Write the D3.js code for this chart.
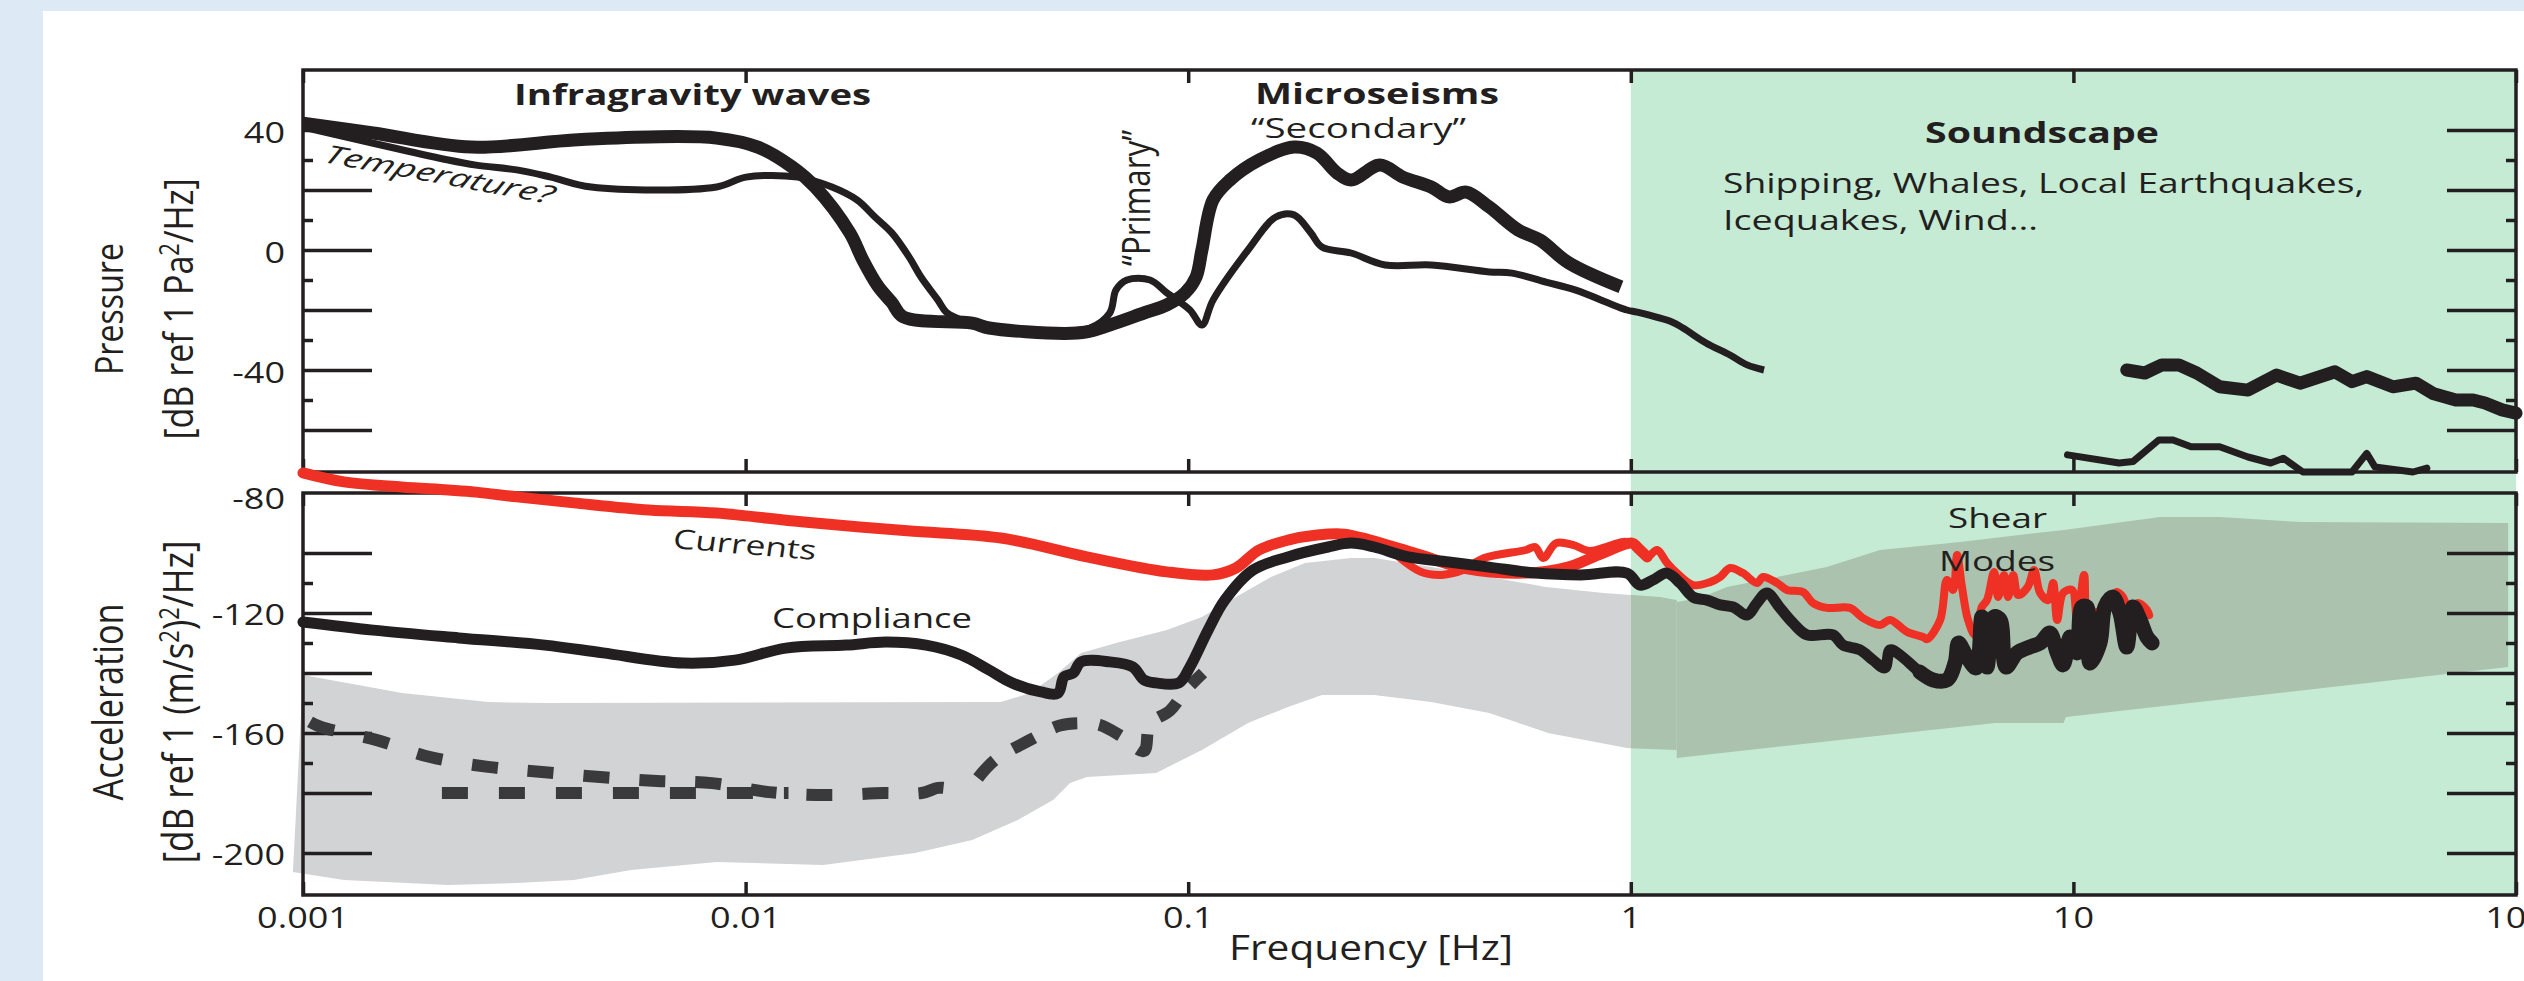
<!DOCTYPE html>
<html><head><meta charset="utf-8">
<script src="https://cdn.jsdelivr.net/npm/d3@7"></script>
<style>html,body{margin:0;padding:0;background:#dde9f5;overflow:hidden}</style>
</head><body><svg id="chart" width="2524" height="981"></svg>
<script>
// ---------------- data ----------------
const xTickValues = [0.001, 0.01, 0.1, 1, 10, 100];
const xTickLabels = ["0.001", "0.01", "0.1", "1", "10", "100"];
const pressureMajorTicks = [-60, -40, -20, 0, 20, 40];
const pressureMinorTicks = [-50, -30, -10, 10, 30];
const pressureTickLabels = [40, 0, -40];
const accelMajorTicks = [-200, -180, -160, -140, -120, -100];
const accelMinorTicks = [-170, -150, -130, -110];
const accelTickLabels = [-80, -120, -160, -200];

// Pressure panel (freq Hz, dB)
const pressureThick = [[0.001,42.3],[0.00144,39],[0.0024,34.3],[0.00409,36.7],[0.00605,37.7],[0.0086,37.3],[0.01066,34.3],[0.01273,27.7],[0.01436,21],[0.0172,5.7],[0.0184,-3.3],[0.0199,-12],[0.0214,-17.5],[0.0227,-22.3],[0.0325,-24.4],[0.0355,-26],[0.0524,-27.8],[0.059,-27.3],[0.0665,-25],[0.0794,-21],[0.0895,-18.3],[0.0984,-14.3],[0.1042,-9],[0.1074,0],[0.1138,16.7],[0.1242,23.3],[0.1445,30],[0.1734,34.3],[0.1954,32.3],[0.2168,25.7],[0.2333,23.3],[0.271,28.3],[0.3055,24.3],[0.354,21],[0.388,17.7],[0.425,19.3],[0.479,14.3],[0.556,6.7],[0.624,3.3],[0.724,-4.3],[0.95,-12.3]];
const pressureThin = [[0.001,41],[0.00213,30],[0.00246,28.3],[0.00304,26.7],[0.00363,24.3],[0.00448,21],[0.0086,21],[0.01002,24.3],[0.01312,24.3],[0.01567,21],[0.01785,16.7],[0.0196,11],[0.0214,5.7],[0.0234,-2.3],[0.0249,-9],[0.0272,-16.7],[0.0284,-20.7],[0.031,-23.5],[0.036,-25.5],[0.05,-27],[0.06,-26],[0.0665,-21],[0.0687,-13.3],[0.0727,-10],[0.082,-10],[0.0895,-14.3],[0.1009,-20],[0.1074,-25],[0.1138,-16.7],[0.1365,0],[0.1578,11],[0.1734,11.7],[0.1893,5.7],[0.2005,1],[0.2333,-1],[0.2786,-5],[0.354,-5],[0.479,-7.3],[0.539,-7.7],[0.643,-10.7],[0.748,-13.3],[0.98,-20],[1.033,-20.7],[1.239,-24],[1.312,-26],[1.479,-31],[1.675,-35],[1.831,-38.3],[2.0,-40]];
const pressureThickHF = [[13.2,-40],[14.5,-41],[15.85,-38.3],[17.3,-38.3],[19.0,-41],[21.4,-45.6],[24.8,-46.7],[28.8,-41.7],[32.5,-44.4],[39.0,-40.6],[42.6,-43.9],[46.0,-42.2],[52.7,-45.6],[59.4,-44.4],[64.9,-47.8],[73.1,-50],[80.0,-50],[85.1,-51],[93.0,-53.3],[100,-54.4]];
const pressureThinHF = [[9.7,-68.3],[12.68,-71],[13.64,-70.5],[15.6,-63.3],[16.79,-63.3],[18.44,-65.6],[21.4,-65.6],[24.8,-69],[27.9,-71],[29.8,-69.4],[33.0,-74],[42.6,-74],[46.0,-67.8],[48.0,-72.3],[58.5,-74],[62.9,-72.7]];

// Acceleration panel (freq Hz, dB)
const currents = [[0.001,-73.3],[0.001238,-76.3],[0.00167,-78],[0.00213,-79],[0.00246,-79.7],[0.00304,-81.3],[0.00409,-83.3],[0.00605,-85.7],[0.0086,-86.7],[0.01355,-89.7],[0.0232,-92.6],[0.03776,-95],[0.059,-101.3],[0.0895,-106.3],[0.1138,-107.3],[0.1282,-105],[0.1445,-99],[0.168,-95.7],[0.1954,-94],[0.2255,-93.7],[0.2576,-95.7],[0.3357,-100.7],[0.4178,-105],[0.5796,-106.7],[0.721,-104.7],[0.843,-100.7],[1.007,-96.7],[1.033,-98],[1.089,-101.3],[1.146,-99],[1.207,-103.3],[1.271,-106.7],[1.383,-110.7],[1.511,-109.7],[1.592,-108],[1.676,-105],[1.792,-106.7],[1.927,-110],[1.99,-108],[2.14,-110],[2.253,-112.3],[2.449,-113],[2.582,-116.7],[2.775,-118.3],[3.127,-118.3],[3.347,-121.7],[3.656,-124],[3.853,-122.3],[4.21,-126.3],[4.575,-128],[4.67,-128.7],[5.0,-122.3],[5.18,-109],[5.35,-112.3],[5.46,-100.7],[5.6,-111.3],[5.78,-122.3],[5.99,-127.3],[6.21,-118],[6.38,-115.7],[6.62,-106.3],[6.76,-114.7],[6.97,-107.3],[7.12,-114.7],[7.31,-107.3],[7.5,-114],[7.89,-111.3],[8.15,-105.7],[8.41,-113.3],[8.77,-115.7],[9.0,-110],[9.19,-122.3],[9.48,-113.3],[9.93,-112.3],[10.19,-122.3],[10.57,-107.3],[10.79,-122.3],[11.3,-119.7],[11.97,-118.3],[12.54,-113],[12.94,-114.7],[13.43,-120],[13.93,-116.7],[14.66,-119],[14.83,-120.7]];
const currentsLoop = [[0.2946,-100.5],[0.3357,-106.3],[0.3745,-107.3],[0.4178,-105.7],[0.4661,-101.7],[0.5796,-99],[0.608,-98],[0.634,-101.7],[0.678,-96.7],[0.74,-97.3],[0.805,-99.3],[0.879,-98],[0.96,-96.3],[1.007,-96.7]];
const compliance = [[0.001,-123],[0.00144,-125.7],[0.00225,-128.3],[0.00352,-130.7],[0.00476,-133.3],[0.00722,-136.7],[0.00946,-135.7],[0.01233,-131.7],[0.01686,-130.7],[0.02075,-129.7],[0.02557,-130.7],[0.0307,-134],[0.0355,-139],[0.04,-143.3],[0.0465,-146.3],[0.0508,-146.7],[0.0524,-141.3],[0.055,-140],[0.0573,-136.3],[0.0665,-136.3],[0.075,-138],[0.0794,-142.3],[0.0846,-143.3],[0.0953,-143.3],[0.1009,-138],[0.1109,-125.7],[0.121,-115.7],[0.14,-105.7],[0.168,-101.3],[0.207,-98],[0.2333,-96.7],[0.263,-98],[0.314,-101.3],[0.388,-103],[0.479,-104.7],[0.608,-106.7],[0.772,-107.3],[0.98,-106.7],[1.049,-110.7],[1.122,-109],[1.207,-106.7],[1.292,-110],[1.383,-114.7],[1.486,-115.7],[1.592,-117.3],[1.703,-118],[1.831,-120.7],[1.927,-116.7],[2.03,-113.3],[2.173,-118.3],[2.324,-123.3],[2.5,-127.3],[2.863,-127.3],[3.015,-130.7],[3.295,-132.3],[3.527,-135.7],[3.75,-138.3],[3.853,-132.3],[4.058,-134],[4.5,-139.7],[4.82,-142.3],[5.18,-142.3],[5.41,-136.3],[5.5,-130],[5.75,-134.7],[6.03,-138.3],[6.21,-121.3],[6.38,-138],[6.62,-121.3],[6.83,-122.3],[7.04,-138],[7.46,-133.3],[7.98,-131.3],[8.41,-130],[8.85,-126.7],[9.19,-133.3],[9.48,-137.3],[9.83,-128],[10.19,-133.3],[10.45,-118],[10.73,-118],[10.9,-136.7],[11.48,-130],[11.78,-118],[12.28,-114.7],[12.74,-120],[13.2,-131.3],[13.64,-118],[14.15,-122.3],[14.66,-128],[15.06,-130]];
const dashedModel = [[0.001037,-156.3],[0.001098,-158],[0.001462,-162.3],[0.001936,-168],[0.00262,-171.3],[0.003467,-173],[0.00469,-174.7],[0.00631,-176],[0.0084,-176.7],[0.0113,-179.7],[0.01527,-180.7],[0.02055,-180],[0.025,-180],[0.0272,-178.3],[0.0285,-178.5],[0.0297,-180]];
const dashedFlat = [[0.00206,-180],[0.0125,-180]];
const dashedRise = [[0.0335,-175],[0.0366,-169],[0.04395,-162.3],[0.0513,-157.5],[0.0573,-156.7],[0.0632,-157.3],[0.0705,-161],[0.0794,-166],[0.082,-157],[0.091,-152.5],[0.0984,-146],[0.108,-140]];

// gray noise bands
const bandLFUpper = [[0.001,-140.7],[0.001674,-146.7],[0.00262,-149.7],[0.00352,-150],[0.03776,-149.7],[0.04395,-146.7],[0.0508,-140],[0.0573,-133.3],[0.0687,-130],[0.0895,-125.7],[0.1074,-121.3],[0.1282,-114.7],[0.1538,-108],[0.1836,-103.3],[0.2333,-101.7],[0.263,-101.7],[0.354,-104.7],[0.479,-108],[0.643,-111.3],[0.869,-113.3],[1.164,-114.7],[1.27,-115.7]];
const bandLFLower = [[0.000949,-206.3],[0.001238,-209],[0.00213,-210.7],[0.00304,-210],[0.00409,-209],[0.00551,-205.7],[0.0086,-203],[0.01496,-204],[0.02415,-200],[0.0325,-195.7],[0.0412,-189],[0.0495,-182.3],[0.0541,-176.7],[0.059,-174.7],[0.0846,-173.3],[0.1074,-165.7],[0.1365,-156.7],[0.168,-151.3],[0.2005,-147.3],[0.263,-147.3],[0.354,-149.7],[0.479,-153.3],[0.65,-160],[0.98,-165],[1.27,-165.7]];
const bandHFUpper = [[1.27,-116.3],[1.432,-115],[1.649,-111.3],[2.773,-104.7],[3.656,-99],[5.546,-96.3],[9.52,-92.3],[15.7,-88],[21.4,-88],[32.5,-89.7],[96,-90]];
const bandHFLower = [[1.27,-168.3],[6.65,-156.7],[9.5,-156.7],[9.62,-154.7],[96,-138]];

// ---------------- drawing ----------------
const INK = "#231f20", RED = "#ee3124", DASH = "#3a3a3c";
const GRAY = "#d1d3d4", GRAY_ON_GREEN = "#abc2ae", GREEN = "#c5ebd5";
const FONT = "'Open Sans', sans-serif";
const SX = 1.2; // horizontal stretch of the original artwork's text

const svg = d3.select("#chart");
svg.append("rect").attr("width", 2524).attr("height", 981).attr("fill", "#dde9f5");
svg.append("rect").attr("x", 43).attr("y", 11).attr("width", 2481).attr("height", 970).attr("fill", "#fff");

const x = d3.scaleLog().domain([0.001, 100]).range([303, 2516]);
const yP = d3.scaleLinear().domain([60, -74]).range([70, 472]);
const yA = d3.scaleLinear().domain([-80, -214]).range([493, 895]);
const L = x.range()[0], R = x.range()[1];

const defs = svg.append("defs");
defs.append("clipPath").attr("id", "leftOfGreen").append("rect").attr("x", 0).attr("y", 0).attr("width", x(1)).attr("height", 981);
defs.append("clipPath").attr("id", "inGreen").append("rect").attr("x", x(1)).attr("y", 0).attr("width", 2524).attr("height", 981);

// green soundscape region
svg.append("rect").attr("x", x(1)).attr("y", yP.range()[0]).attr("width", R - x(1)).attr("height", yA.range()[1] - yP.range()[0]).attr("fill", GREEN);

// bands
const bandLine = d3.line().x(d => x(d[0])).y(d => yA(d[1]));
const bands = [bandLFUpper.concat(bandLFLower.slice().reverse()), bandHFUpper.concat(bandHFLower.slice().reverse())];
[["leftOfGreen", GRAY], ["inGreen", GRAY_ON_GREEN]].forEach(([clip, col]) => {
  const g = svg.append("g").attr("clip-path", `url(#${clip})`);
  bands.forEach(b => g.append("path").attr("d", bandLine(b) + "Z").attr("fill", col));
});

// frames
[yP, yA].forEach(ys => {
  svg.append("rect").attr("x", L).attr("y", ys.range()[0]).attr("width", R - L).attr("height", ys.range()[1] - ys.range()[0])
    .attr("fill", "none").attr("stroke", INK).attr("stroke-width", 3.5);
});

function ticks(axis, tx, ty) {
  const g = svg.append("g").attr("transform", `translate(${tx},${ty})`).call(axis);
  g.select(".domain").remove();
  g.selectAll("text").remove();
  g.selectAll("line").attr("stroke", INK).attr("stroke-width", 3.5);
}
ticks(d3.axisLeft(yP).tickValues(pressureMajorTicks).tickSize(-69), L, 0);
ticks(d3.axisLeft(yP).tickValues(pressureMinorTicks).tickSize(-10), L, 0);
ticks(d3.axisRight(yP).tickValues(pressureMajorTicks).tickSize(-69), R, 0);
ticks(d3.axisRight(yP).tickValues(pressureMinorTicks).tickSize(-10), R, 0);
ticks(d3.axisLeft(yA).tickValues(accelMajorTicks).tickSize(-69), L, 0);
ticks(d3.axisLeft(yA).tickValues(accelMinorTicks).tickSize(-10), L, 0);
ticks(d3.axisRight(yA).tickValues(accelMajorTicks).tickSize(-69), R, 0);
ticks(d3.axisRight(yA).tickValues(accelMinorTicks).tickSize(-10), R, 0);
ticks(d3.axisTop(x).tickValues(xTickValues).tickSize(-13), 0, yP.range()[0]);
ticks(d3.axisBottom(x).tickValues(xTickValues).tickSize(-13), 0, yP.range()[1]);
ticks(d3.axisTop(x).tickValues(xTickValues).tickSize(-13), 0, yA.range()[0]);
ticks(d3.axisBottom(x).tickValues(xTickValues).tickSize(-13), 0, yA.range()[1]);

// curves
function curve(data, ys, o) {
  const line = d3.line().x(d => x(d[0])).y(d => ys(d[1])).curve(o.smooth ? d3.curveCatmullRom.alpha(0.5) : d3.curveLinear);
  const p = svg.append("path").attr("d", line(data)).attr("fill", "none").attr("stroke", o.color || INK)
    .attr("stroke-width", o.w).attr("stroke-linejoin", "round").attr("stroke-linecap", o.cap || "butt");
  if (o.dash) p.attr("stroke-dasharray", o.dash);
  return p;
}
curve(pressureThin, yP, { w: 7, smooth: true });
curve(pressureThick, yP, { w: 13, smooth: true });
curve(pressureThinHF, yP, { w: 7, cap: "round" });
curve(pressureThickHF, yP, { w: 13, cap: "round" });

curve(dashedModel, yA, { w: 12, color: DASH, dash: "26,30", smooth: true });
curve(dashedFlat, yA, { w: 12, color: DASH, dash: "26,31" });
curve(dashedRise, yA, { w: 12, color: DASH, dash: "24,22", smooth: true });
curve(currents.filter(d => d[0] <= 1.1), yA, { w: 11, color: RED, smooth: true, cap: "round" });
curve(currents.filter(d => d[0] >= 1.0), yA, { w: 8, color: RED, smooth: true, cap: "round" });
curve(currentsLoop, yA, { w: 8, color: RED, smooth: true });
curve(compliance, yA, { w: 11, smooth: true, cap: "round" });
curve(compliance.filter(d => d[0] >= 4.4), yA, { w: 15, smooth: true, cap: "round" });

// text helper: horizontally stretched like the original artwork
function label(parts, px, py, o = {}) {
  const g = svg.append("g").attr("transform", `translate(${px},${py}) scale(${SX},1)`);
  const t = g.append("text").attr("font-family", FONT).attr("font-size", o.size || 28)
    .attr("font-weight", o.weight || 400).attr("font-style", o.italic ? "italic" : "normal")
    .attr("text-anchor", o.anchor || "start").attr("fill", INK);
  let pending = 0;
  (Array.isArray(parts) ? parts : [parts]).forEach(s => {
    if (typeof s === "string") { const ts = t.append("tspan").text(s); if (pending) { ts.attr("dy", pending); pending = 0; } }
    else { t.append("tspan").attr("dy", -s.up).attr("font-size", s.size).text(s.sup); pending = s.up; }
  });
  const len = t.node().getComputedTextLength();
  if (o.angle === -90) {
    t.attr("transform", "rotate(-90)");
    if (o.len) t.attr("font-size", (o.size || 28) * o.len / len);
  } else if (o.angle !== undefined) {
    // tilted text: fit horizontal extent o.fit at screen angle o.angle
    const th = Math.tan(o.angle * Math.PI / 180);
    const a = Math.asin(Math.min(0.9, o.fit * th / len));
    const sx = o.fit / (len * Math.cos(a));
    g.attr("transform", `translate(${px},${py}) scale(${sx},1)`);
    t.attr("transform", `rotate(${a * 180 / Math.PI})`);
  } else if (o.fit) {
    g.attr("transform", `translate(${px},${py}) scale(${o.fit / len},1)`);
  }
  return t;
}

// tick labels
pressureTickLabels.forEach(v => label(String(v), 285, yP(v) + 13, { anchor: "end", size: 30 }));
accelTickLabels.forEach(v => label(String(v), 285, yA(v) + (v === -80 ? 16 : 12), { anchor: "end", size: 30 }));
xTickValues.forEach((v, i) => label(xTickLabels[i], x(v), 928, { anchor: "middle", size: 30 }));

// axis titles
label("Frequency [Hz]", 1229, 960, { size: 34, fit: 284 });
label("Pressure", 123, 309, { angle: -90, anchor: "middle", size: 32, len: 132 });
label(["[dB ref 1 Pa", { sup: "2", up: 12, size: 22 }, "/Hz]"], 193, 309, { angle: -90, anchor: "middle", size: 32, len: 262 });
label("Acceleration", 123, 702, { angle: -90, anchor: "middle", size: 32, len: 197 });
label(["[dB ref 1 (m/s", { sup: "2", up: 12, size: 22 }, ")", { sup: "2", up: 12, size: 22 }, "/Hz]"], 193, 702, { angle: -90, anchor: "middle", size: 32, len: 325 });

// annotations
label("Infragravity waves", 514, 105, { weight: 700, size: 29, fit: 357 });
label("Microseisms", 1255, 104, { weight: 700, size: 29, fit: 244 });
label("\u201cSecondary\u201d", 1251, 138, { size: 27, fit: 215 });
label("\u201cPrimary\u201d", 1150, 266, { angle: -90, size: 28, len: 136 });
label("Temperature?", 322, 162, { italic: true, size: 25, angle: 10.4, fit: 228 });
label("Soundscape", 1925, 143, { weight: 700, size: 29, fit: 234 });
label("Shipping, Whales, Local Earthquakes,", 1723, 193, { size: 28, fit: 641 });
label("Icequakes, Wind\u2026", 1723, 230, { size: 28, fit: 315 });
label("Currents", 672, 548, { size: 27, angle: 4.8, fit: 143 });
label("Compliance", 772, 628, { size: 27, fit: 200 });
label("Shear", 1948, 528, { size: 28, fit: 99 });
label("Modes", 1939, 571, { size: 28, fit: 116 });
</script></body></html>
